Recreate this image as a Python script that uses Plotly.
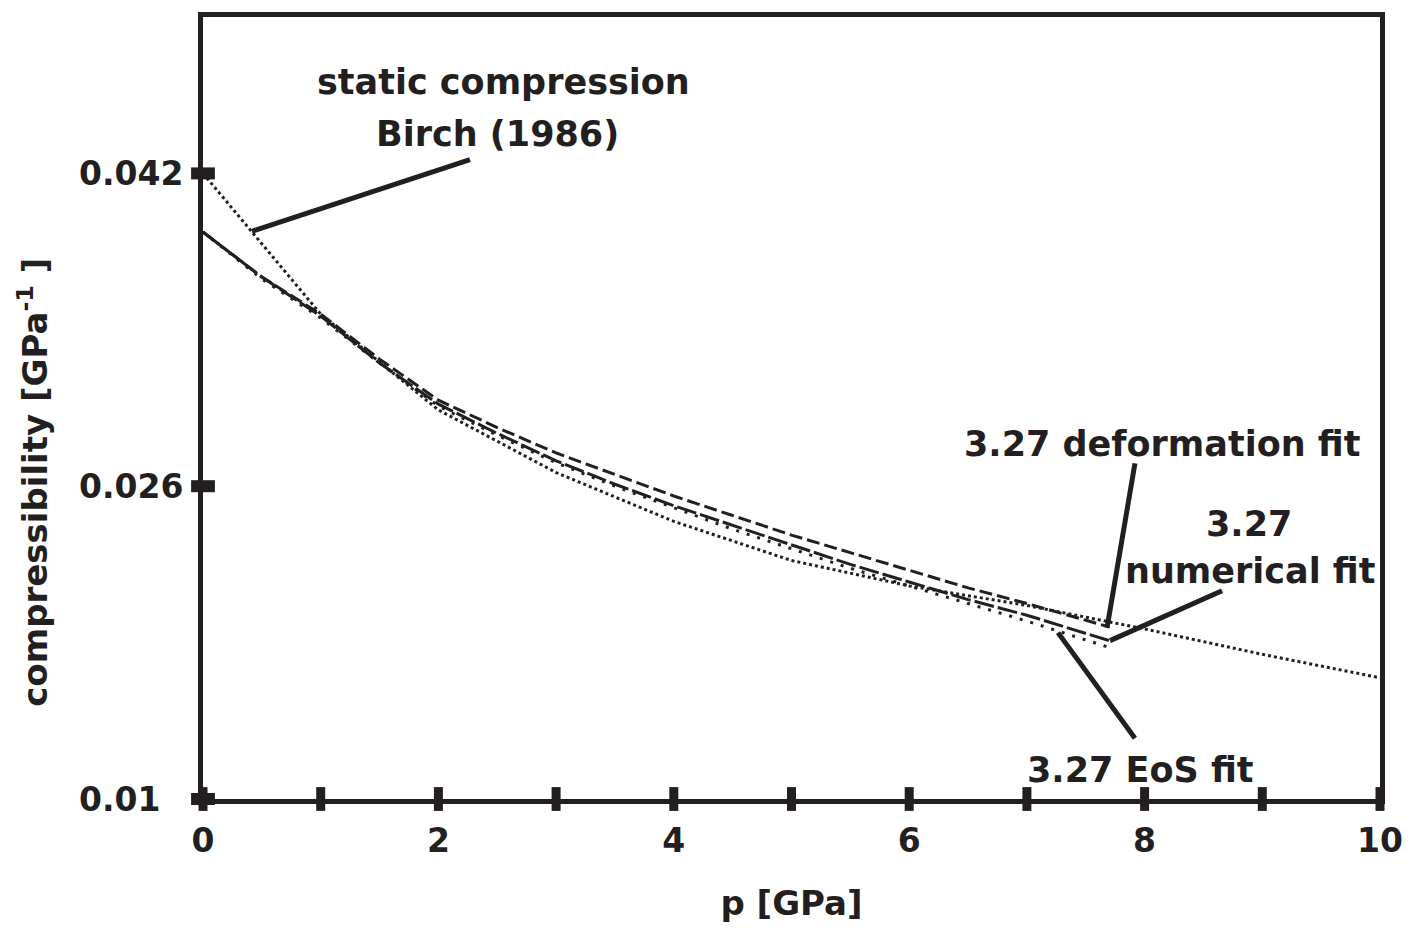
import plotly.graph_objects as go

# ---- data ----
birch_p = [0, 1, 2, 3, 4, 5, 6, 7, 8, 9, 10]
birch_k = [0.0420, 0.0348, 0.0299, 0.0267, 0.0242, 0.0222, 0.0209, 0.0199, 0.0187, 0.0174, 0.0162]

fit_p = [0, 0.5, 1, 1.5, 2, 2.5, 3, 3.5, 4, 4.5, 5, 5.5, 6, 6.5, 7, 7.7]
deform_k = [0.0390, 0.0367, 0.0348, 0.0325, 0.0304, 0.0290, 0.0277, 0.0266, 0.0255, 0.0245,
            0.0235, 0.0226, 0.0217, 0.0208, 0.0200, 0.0188]
numer_k = [0.0390, 0.0367, 0.0347, 0.0323, 0.0302, 0.0287, 0.0273, 0.0261, 0.0250, 0.0240,
           0.0230, 0.0220, 0.0211, 0.0202, 0.0194, 0.0181]
eos_k = [0.0390, 0.0366, 0.0346, 0.0323, 0.0301, 0.0286, 0.0272, 0.0260, 0.0249, 0.0238,
         0.0228, 0.0218, 0.0209, 0.0200, 0.0191, 0.01775]

x_minor_ticks = [0, 1, 2, 3, 4, 5, 6, 7, 8, 9, 10]
x_tick_vals = [0, 2, 4, 6, 8, 10]
y_tick_vals = [0.01, 0.026, 0.042]
y_tick_text = ["0.01\u00a0\u00a0", "0.026", "0.042"]

INK = "#231f20"
FONT = "DejaVu Sans, Liberation Sans, Arial, sans-serif"

fig = go.Figure()

fig.add_trace(go.Scatter(x=birch_p, y=birch_k, mode="lines", name="Birch (1986)",
                         line=dict(color=INK, width=3, dash="3px,3px")))
fig.add_trace(go.Scatter(x=fit_p, y=deform_k, mode="lines", name="deformation fit",
                         line=dict(color=INK, width=3, dash="13px,5px")))
fig.add_trace(go.Scatter(x=fit_p, y=numer_k, mode="lines", name="numerical fit",
                         line=dict(color=INK, width=3, dash="20px,4px")))
fig.add_trace(go.Scatter(x=fit_p, y=eos_k, mode="lines", name="EoS fit",
                         line=dict(color=INK, width=3, dash="3px,8px")))

# tick marks crossing the axes
fig.add_trace(go.Scatter(x=x_minor_ticks, y=[0.01] * len(x_minor_ticks), mode="markers",
                         cliponaxis=False, hoverinfo="skip",
                         marker=dict(symbol="line-ns", size=17, line=dict(width=9, color=INK))))
fig.add_trace(go.Scatter(x=[0] * len(y_tick_vals), y=y_tick_vals, mode="markers",
                         cliponaxis=False, hoverinfo="skip",
                         marker=dict(symbol="line-ew", size=17, line=dict(width=12, color=INK))))

# annotations
ann_font = dict(family=FONT, size=35, color=INK, weight="bold")
annotations = [
    dict(x=2.549, y=0.04665, text="static compression"),
    dict(x=2.506, y=0.04400, text="Birch (1986)"),
    dict(x=8.156, y=0.02814, text="3.27 deformation fit"),
    dict(x=8.887, y=0.02408, text="3.27"),
    dict(x=8.896, y=0.02164, text="numerical fit"),
    dict(x=7.969, y=0.01147, text="3.27 EoS fit"),
]
for a in annotations:
    fig.add_annotation(x=a["x"], y=a["y"], text=a["text"], showarrow=False,
                       font=ann_font, align="center", xanchor="center", yanchor="middle")

# y-axis title placed like the original (below the axis centre)
fig.add_annotation(xref="paper", yref="paper", x=-0.144, y=0.405,
                   text="compressibility [GPa<sup>-1</sup> ]", textangle=-90, showarrow=False,
                   xanchor="center", yanchor="middle",
                   font=dict(family=FONT, size=34, color=INK, weight="bold"))

pointers = [
    (2.268, 0.04271, 0.416, 0.03904),
    (7.918, 0.02717, 7.681, 0.01876),
    (8.658, 0.02065, 7.706, 0.0181),
    (7.918, 0.01311, 7.264, 0.01851),
]
for x0, y0, x1, y1 in pointers:
    fig.add_shape(type="line", x0=x0, y0=y0, x1=x1, y1=y1, xref="x", yref="y",
                  line=dict(color=INK, width=5))

fig.update_layout(
    width=1410, height=923,
    margin=dict(l=195, r=38, t=4, b=132),
    plot_bgcolor="white", paper_bgcolor="white",
    showlegend=False,
    font=dict(family=FONT, color=INK),
    xaxis=dict(range=[0, 10], tickvals=x_tick_vals, ticks="", showgrid=False, zeroline=False,
               showline=True, mirror=True, linewidth=5, linecolor=INK,
               tickfont=dict(family=FONT, size=33, color=INK, weight="bold"),
               ticklabelstandoff=8,
               title=dict(text="p [GPa]", font=dict(family=FONT, size=34, color=INK, weight="bold"),
                          standoff=34)),
    yaxis=dict(range=[0.01, 0.05], tickvals=y_tick_vals, ticktext=y_tick_text, ticks="",
               showgrid=False, zeroline=False,
               showline=True, mirror=True, linewidth=5, linecolor=INK,
               tickfont=dict(family=FONT, size=33, color=INK, weight="bold"),
               ticklabelstandoff=8),
)

fig.write_html("out.html")
